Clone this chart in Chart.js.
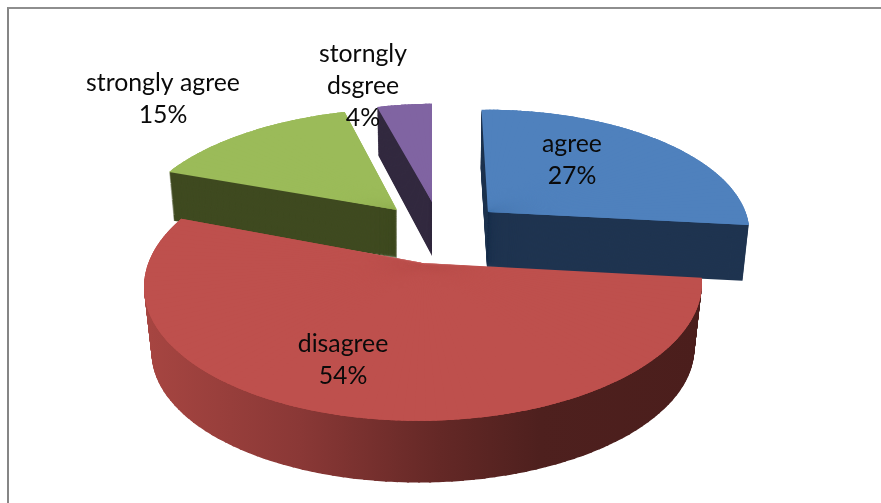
<!DOCTYPE html>
<html>
<head>
<meta charset="utf-8">
<title>Agreement pie</title>
<script src="https://cdn.jsdelivr.net/npm/chart.js@4/dist/chart.umd.min.js"></script>
<style>
  html, body { margin: 0; padding: 0; background: #fff; }
  #wrap { position: relative; width: 881px; height: 503px; overflow: hidden; }
  #frame { position: absolute; left: 7px; top: 7px; width: 880px; height: 494px;
           border-left: 2px solid #868686; border-top: 2px solid #8e8e8e; }
  canvas { position: absolute; left: 0; top: 0; }
</style>
</head>
<body>
<div id="wrap"><div id="frame"></div><canvas id="pie" width="881" height="503"></canvas></div>
<script>
// Chart content
const categories = ['agree', 'disagree', 'strongly agree', ['storngly', 'dsgree']];
const values = [27, 54, 15, 4];
const topColors = ['#4f81bd', '#be504d', '#9bbb59', '#8064a2'];
const wallColors = ['#1f3450', null, '#3f4a20', '#32293f'];

// Shading of the large slice's side, as [screen x, colour]
const shadedWall = [[150, '#a64541'], [300, '#8a3836'], [440, '#642826'], [540, '#4e201e'], [700, '#4b1e1c']];

// Perspective disc: ellipse radii and how far the centre moves towards the back
const RX = 279, RY = 136, K = -0.16;

// Placement of each exploded slice on the page: apex, 2x2 linear part, and side wall
const sliceViews = [
  { apex: [488, 212], m: [0.932, 0.057, -0.008, 0.895], wall: [-1, 56], wallScale: [0.98, 0.98] },
  { apex: [423, 263], m: [1, 0, -0.008, 1], wall: [0, 66], wallScale: [0.973, 0.973] },
  { apex: [397, 210], m: [0.95, -0.036, -0.012, 0.889], wall: [0, 48], wallScale: [0.98, 0.98] },
  { apex: [432, 202], m: [0.927, 0, -0.008, 0.86], wall: [0, 54], wallScale: [0.98, 1.06] }
];
const paintOrder = [2, 3, 0, 1];

// Text block centre and first baseline for each label
const labelSpots = [[572, 152], [343, 352], [163, 91], [363, 62]];
const LINE_GAP = 32;
const LABEL_FONT = '24.8px Lato, "Open Sans", sans-serif';

const DEG = Math.PI / 180;
const TOP_STEP = 2 * DEG, FLAT_WALL_STEP = 6 * DEG, SHADED_WALL_STEP = 2 * DEG;
const OVERLAP = 0.4 * DEG;

// Rim position of a unit disc seen in perspective, relative to the projected centre
function discPoint(a) {
  const x = Math.sin(a), y = -Math.cos(a), q = 1 + K * y;
  return [RX * x * Math.sqrt(1 - K * K) / q, RY * ((y + K) / q - K)];
}

function rimPoint(view, a, t) {
  const [rx, ry] = discPoint(a);
  const sx = 1 - t * (1 - view.wallScale[0]), sy = 1 - t * (1 - view.wallScale[1]);
  return [
    view.apex[0] + t * view.wall[0] + sx * (view.m[0] * rx + view.m[1] * ry),
    view.apex[1] + t * view.wall[1] + sy * (view.m[2] * rx + view.m[3] * ry)
  ];
}

// Horizontal shading in the piece's own coordinates, constant along screen verticals
function shadeFor(ctx, el, A, C, S0x) {
  const first = shadedWall[0][0], last = shadedWall[shadedWall.length - 1][0];
  const n2 = A * A + C * C;
  const at = X => [el.x + (X - S0x) * A / n2, el.y + (X - S0x) * C / n2];
  const p0 = at(first), p1 = at(last);
  const g = ctx.createLinearGradient(p0[0], p0[1], p1[0], p1[1]);
  shadedWall.forEach(([x, c]) => g.addColorStop((x - first) / (last - first), c));
  return g;
}

// Draws one narrow piece of an arc element, mapped onto its place on the page
function drawPiece(ctx, el, from, to, fill, view, t) {
  const R = el.outerRadius;
  const a0 = from + Math.PI / 2, a1 = to + Math.PI / 2;
  const u1 = [R * Math.sin(a0), -R * Math.cos(a0)], u2 = [R * Math.sin(a1), -R * Math.cos(a1)];
  const S0 = [view.apex[0] + t * view.wall[0], view.apex[1] + t * view.wall[1]];
  const S1 = rimPoint(view, a0, t), S2 = rimPoint(view, a1, t);
  const v1 = [S1[0] - S0[0], S1[1] - S0[1]], v2 = [S2[0] - S0[0], S2[1] - S0[1]];
  const det = u1[0] * u2[1] - u2[0] * u1[1];
  const A = (v1[0] * u2[1] - v2[0] * u1[1]) / det;
  const C = (v2[0] * u1[0] - v1[0] * u2[0]) / det;
  const B = (v1[1] * u2[1] - v2[1] * u1[1]) / det;
  const D = (v2[1] * u1[0] - v1[1] * u2[0]) / det;
  const piece = Object.create(el);
  piece.startAngle = from;
  piece.endAngle = to;
  piece.circumference = to - from;
  piece.options = Object.assign({}, el.options, {
    backgroundColor: fill || shadeFor(ctx, el, A, C, S0[0]), borderWidth: 0, offset: 0, spacing: 0
  });
  ctx.save();
  ctx.transform(A, B, C, D, S0[0] - A * el.x - C * el.y, S0[1] - B * el.x - D * el.y);
  piece.draw(ctx);
  ctx.restore();
}

function drawSlice(ctx, el, index) {
  const view = sliceViews[index];
  const span = el.endAngle - el.startAngle;
  const wallCount = Math.max(1, Math.ceil(span / (wallColors[index] ? FLAT_WALL_STEP : SHADED_WALL_STEP)));
  const wallStep = span / wallCount;
  const layers = Math.round(view.wall[1]);
  for (let l = layers; l >= 1; l--) {
    const t = l / layers;
    for (let i = 0; i < wallCount; i++) {
      const from = el.startAngle + i * wallStep;
      const to = Math.min(el.endAngle, from + wallStep + OVERLAP);
      drawPiece(ctx, el, from, to, wallColors[index], view, t);
    }
  }
  // Top face: two passes half a step apart, so each joint lies under solid colour
  const n = Math.max(1, Math.ceil(span / TOP_STEP));
  const da = span / n;
  for (let phase = 0; phase < 2; phase++) {
    const shift = phase * da / 2;
    for (let i = 0; i < n; i++) {
      const from = Math.min(el.endAngle, el.startAngle + i * da + shift);
      const to = Math.min(el.endAngle, from + da + OVERLAP);
      if (to > from) drawPiece(ctx, el, from, to, topColors[index], view, 0);
    }
  }
}

const tiltedPie = {
  id: 'tiltedPie',
  beforeDatasetsDraw(chart) {
    const ctx = chart.ctx;
    const arcs = chart.getDatasetMeta(0).data;
    paintOrder.forEach(i => drawSlice(ctx, arcs[i], i));
    return false;
  },
  afterDraw(chart) {
    const ctx = chart.ctx;
    ctx.save();
    ctx.font = LABEL_FONT;
    ctx.fillStyle = '#0a0a0a';
    ctx.textAlign = 'center';
    ctx.textBaseline = 'alphabetic';
    categories.forEach((cat, i) => {
      const lines = [].concat(cat, values[i] + '%');
      lines.forEach((line, j) => ctx.fillText(line, labelSpots[i][0], labelSpots[i][1] + j * LINE_GAP));
    });
    ctx.restore();
  }
};

new Chart(document.getElementById('pie'), {
  type: 'pie',
  data: {
    labels: categories,
    datasets: [{ data: values, backgroundColor: topColors, borderWidth: 0 }]
  },
  options: {
    responsive: false,
    animation: false,
    plugins: { legend: { display: false }, tooltip: { enabled: false }, title: { display: false } }
  },
  plugins: [tiltedPie]
});
</script>
</body>
</html>
